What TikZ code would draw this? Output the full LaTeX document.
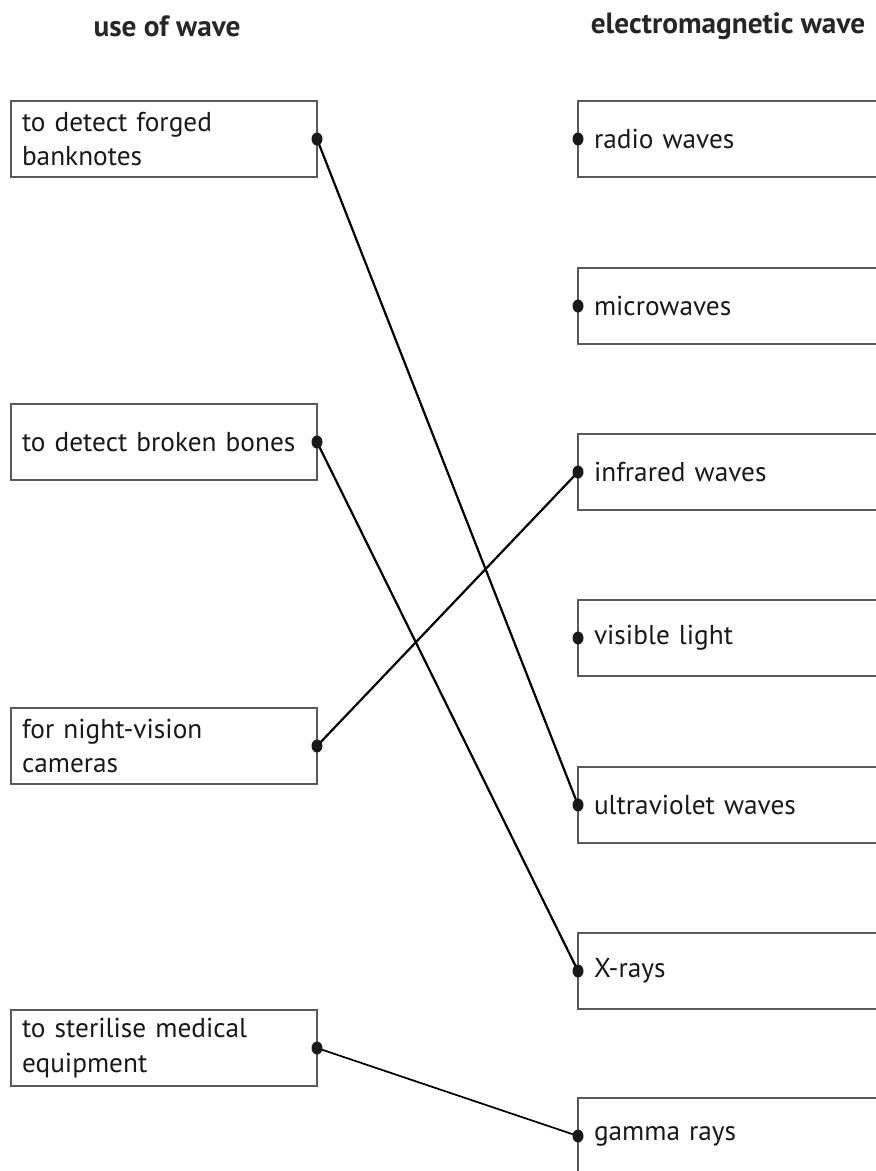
\documentclass[tikz,border=0pt]{standalone}
\usepackage{fontspec}
\usetikzlibrary{shapes.geometric}
\setmainfont{PT Sans}
\begin{document}
\begin{tikzpicture}[x=1pt,y=-1pt,
  box/.style={draw=black!65,line width=2pt,rectangle,inner sep=0pt,outer sep=0pt,minimum height=76pt,anchor=north west,text=black!90},
  lbox/.style={box,minimum width=306pt,text width=284pt,align=left,font=\fontsize{27.3}{34.5}\selectfont},
  rbox/.style={box,minimum width=340pt,text width=308pt,align=left,font=\fontsize{27.3}{34.5}\selectfont},
  head/.style={font=\bfseries\fontsize{29.3}{32}\selectfont,text=black!85},
  link/.style={line width=2.2pt,black},
  dot/.style={ellipse,fill=black!90,inner sep=0pt,minimum width=11pt,minimum height=13pt}]
\useasboundingbox (0,0) rectangle (876,1171);
\clip (0,0) rectangle (876,1171);
\node[head] (h1) at (167,26) {use of wave};
\node[head] (h2) at (728,26) {electromagnetic wave};
\node[lbox] (l1) at (11,101) {to detect forged\\banknotes};
\node[lbox] (l2) at (11,404) {to detect broken bones};
\node[lbox] (l3) at (11,708) {for night-vision\\cameras};
\node[lbox] (l4) at (11,1010) {to sterilise medical\\equipment};
\node[rbox] (r1) at (578,101) {radio waves};
\node[rbox] (r2) at (578,268) {microwaves};
\node[rbox] (r3) at (578,434) {infrared waves};
\node[rbox] (r4) at (578,600) {visible light};
\node[rbox] (r5) at (578,767) {ultraviolet waves};
\node[rbox] (r6) at (578,933) {X-rays};
\node[rbox] (r7) at (578,1098) {gamma rays};
\draw[link] (l1.east) -- (r5.west);
\draw[link] (l2.east) -- (r6.west);
\draw[link] (l3.east) -- (r3.west);
\draw[link,line width=1.7pt] (l4.east) -- (r7.west);
\foreach \n in {l1,l2,l3,l4} \node[dot] at (\n.east) {};
\foreach \n in {r1,r2,r3,r4,r5,r6,r7} \node[dot] at (\n.west) {};
\end{tikzpicture}
\end{document}
